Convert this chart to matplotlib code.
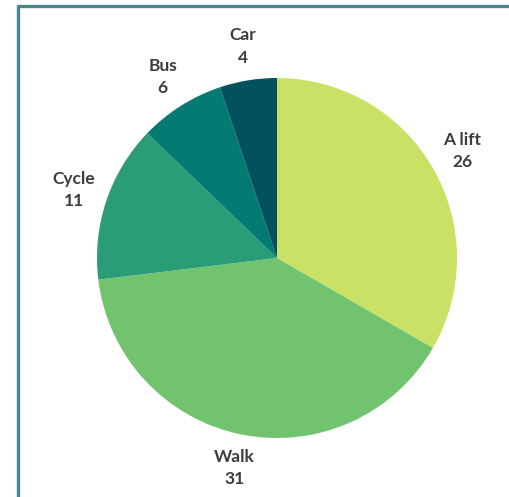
import matplotlib.pyplot as plt
from matplotlib.lines import Line2D

W, H, DPI = 509, 497, 100

categories = ["A lift", "Walk", "Cycle", "Bus", "Car"]
values = [26, 31, 11, 6, 4]
colors = ["#c9e265", "#72c36e", "#2a9d78", "#037a72", "#03505e"]

fig = plt.figure(figsize=(W / DPI, H / DPI), dpi=DPI)
ax = fig.add_axes([0, 0, 1, 1])
ax.set_xlim(0, W)
ax.set_ylim(0, H)
ax.set_aspect("equal")
ax.axis("off")

labels = [f"{c}\n{v}" for c, v in zip(categories, values)]
wedges, texts = ax.pie(
    values,
    labels=labels,
    colors=colors,
    startangle=90,
    counterclock=False,
    center=(277, H - 258),
    radius=180,
    labeldistance=1.19,
    wedgeprops={"linewidth": 0},
    textprops={"fontsize": 12.5, "fontweight": "bold", "color": "#3d3d3d",
               "family": ["Lato", "DejaVu Sans"], "linespacing": 1.5},
)
for t in texts:
    t.set_ha("center")
    t.set_va("center")
ax.set_xlim(0, W)
ax.set_ylim(0, H)

# frame lines (left and top only)
border = "#4a8590"
fig.add_artist(Line2D([18 / W, 18 / W], [0, 1 - 5 / H], transform=fig.transFigure,
                      color=border, linewidth=2.4, solid_capstyle="butt"))
fig.add_artist(Line2D([17 / W, 1], [1 - 6 / H, 1 - 6 / H], transform=fig.transFigure,
                      color=border, linewidth=2.4, solid_capstyle="butt"))

fig.savefig("out.png", dpi=DPI)
